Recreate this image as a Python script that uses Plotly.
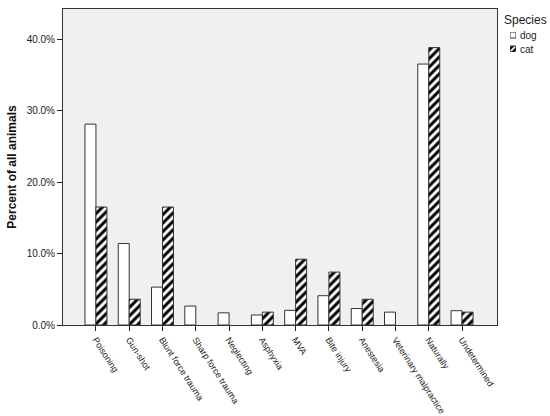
import plotly.graph_objects as go

categories = ["Poisoning", "Gun-shot", "Blunt force trauma", "Sharp force trauma",
              "Neglecting", "Asphyxia", "MVA", "Bite injury", "Anestesia",
              "Veterinary malpractice", "Naturally", "Undetermined"]
dog = [28.1, 11.4, 5.3, 2.65, 1.7, 1.4, 2.05, 4.1, 2.3, 1.8, 36.5, 2.0]
cat = [16.5, 3.6, 16.5, None, None, 1.8, 9.2, 7.4, 3.6, None, 38.8, 1.8]
y_ticks = [0, 10, 20, 30, 40]
species = ["dog", "cat"]

xs = list(range(len(categories)))
font = "Liberation Sans, Arial, sans-serif"
W, H = 550, 416
L, R, T, B = 63, 0, 9, 91
PW, PH = W - L - R, H - T - B


def px_x(p):
    return (p - L) / PW


def px_y(p):
    return (H - B - p) / PH


outline = dict(color="#333333", width=1)
stripes = dict(shape="/", fgcolor="black", bgcolor="white",
               size=6, solidity=0.5, fillmode="replace")

fig = go.Figure()
fig.add_trace(go.Bar(x=xs, y=dog, name=species[0],
                     marker=dict(color="white", line=outline)))
fig.add_trace(go.Bar(x=xs, y=cat, name=species[1],
                     marker=dict(color="white", line=outline, pattern=stripes)))

# legend swatches (inset axis)
fig.add_trace(go.Bar(x=[0.5], y=[6], base=[14], width=1, offset=-0.5,
                     xaxis="x2", yaxis="y2", hoverinfo="skip",
                     marker=dict(color="white", line=outline)))
fig.add_trace(go.Bar(x=[0.5], y=[6], base=[0], width=1, offset=-0.5,
                     xaxis="x2", yaxis="y2", hoverinfo="skip",
                     marker=dict(color="white", line=outline,
                                 pattern=dict(shape="/", fgcolor="black", bgcolor="white",
                                              size=4, solidity=0.55, fillmode="replace"))))

fig.update_layout(
    width=W, height=H,
    margin=dict(l=L, r=R, t=T, b=B, autoexpand=False),
    paper_bgcolor="white",
    plot_bgcolor="white",
    barmode="group",
    bargap=0.34, bargroupgap=0,
    font=dict(family=font, size=10, color="#222222"),
    showlegend=False,
    shapes=[dict(type="rect", xref="x domain", yref="y domain", x0=0, x1=1, y0=0, y1=1,
                 fillcolor="#F0F0F0", line=dict(width=0), layer="below")],
    xaxis=dict(
        domain=[0, (497 - L) / PW],
        tickmode="array", tickvals=xs, ticktext=categories,
        range=[-0.99, 12.05],
        tickangle=57,
        ticks="outside", ticklen=5, tickcolor="#222222",
        showline=True, linecolor="#333333", linewidth=1, mirror=True,
        showgrid=False, zeroline=False,
        tickfont=dict(size=9, color="#222222"),
    ),
    yaxis=dict(
        range=[0, 44.2],
        tickmode="array", tickvals=y_ticks,
        ticktext=[f"{v:.1f}%" for v in y_ticks],
        ticks="outside", ticklen=5, tickcolor="#222222",
        showline=True, linecolor="#333333", linewidth=1, mirror=True,
        showgrid=False, zeroline=False,
        tickfont=dict(size=10, color="#222222"),
        title=dict(text="<b>Percent of all animals</b>",
                   font=dict(size=12, color="#111111"), standoff=7),
    ),
    xaxis2=dict(domain=[px_x(510), px_x(516)], range=[0, 1], anchor="y2",
                visible=False, fixedrange=True),
    yaxis2=dict(domain=[px_y(52), px_y(32)], range=[0, 20], anchor="x2",
                visible=False, fixedrange=True),
    annotations=[
        dict(text="Species", xref="paper", yref="paper", x=px_x(502), y=px_y(20),
             xanchor="left", yanchor="middle", showarrow=False,
             font=dict(size=12, color="#222222")),
        dict(text=species[0], xref="paper", yref="paper", x=px_x(518), y=px_y(35),
             xanchor="left", yanchor="middle", showarrow=False,
             font=dict(size=10, color="#222222")),
        dict(text=species[1], xref="paper", yref="paper", x=px_x(518), y=px_y(49),
             xanchor="left", yanchor="middle", showarrow=False,
             font=dict(size=10, color="#222222")),
    ],
)

fig.write_html("out.html", config={"displayModeBar": False},
               post_script="document.body.style.margin='0';document.body.style.padding='0';")
